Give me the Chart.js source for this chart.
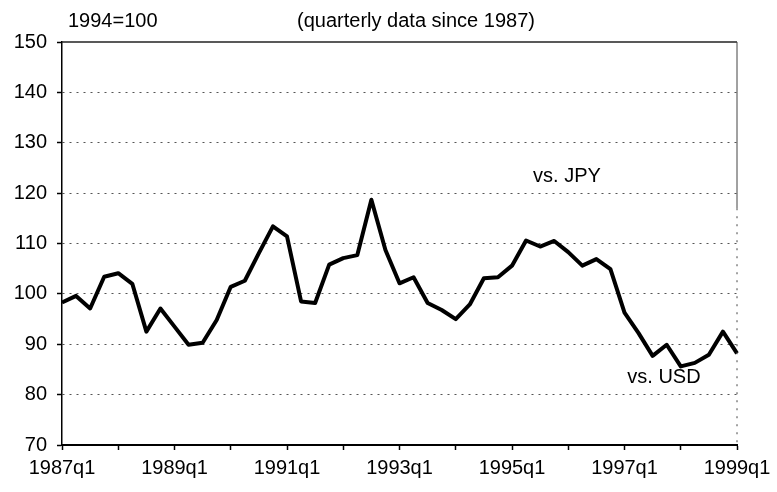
<!DOCTYPE html>
<html>
<head>
<meta charset="utf-8">
<script src="https://cdn.jsdelivr.net/npm/chart.js@4/dist/chart.umd.min.js"></script>
<style>
  html, body { margin: 0; padding: 0; background: #fff; }
  #wrap { width: 777px; height: 492px; }
</style>
</head>
<body>
<div id="wrap"><canvas id="chart" width="777" height="492"></canvas></div>
<script>
// quarters 1987q1 .. 1999q1
const years = [1987, 1988, 1989, 1990, 1991, 1992, 1993, 1994, 1995, 1996, 1997, 1998, 1999]
const quarters = []
years.forEach(y => {
    for (let q = 1; q <= 4; q++) {
        if (y === 1999 && q > 1) break
        quarters.push(y + 'q' + q)
    }
})

// index, 1994=100
const indexValues = [
    98.3, 99.6, 97.1, 103.4, 104.1, 102.0, 92.5, 97.1,
    93.5, 89.9, 90.3, 94.8, 101.4, 102.6, 108.1, 113.4,
    111.4, 98.5, 98.2, 105.8, 107.1, 107.7, 118.7, 108.7,
    102.1, 103.3, 98.2, 96.8, 95.0, 97.9, 103.1, 103.3,
    105.6, 110.6, 109.4, 110.5, 108.3, 105.6, 106.9, 104.9,
    96.3, 92.2, 87.7, 89.9, 85.6, 86.3, 87.9, 92.5,
    88.2
]

const yTicks = [70, 80, 90, 100, 110, 120, 130, 140, 150]
const titleLeft = '1994=100'
const titleMid = '(quarterly data since 1987)'
const seriesLabels = ['vs. JPY', 'vs. USD']

const FONT = '"Liberation Sans", Arial, sans-serif'

// extra texts + top/right frame
const decor = {
    id: 'decor',
    afterDraw(chart) {
        const ctx = chart.ctx, a = chart.chartArea
        const x = chart.scales.x, y = chart.scales.y
        ctx.save()
        // frame top + right
        ctx.strokeStyle = '#222'
        ctx.lineWidth = 1.5
        ctx.beginPath()
        ctx.moveTo(a.left, a.top)
        ctx.lineTo(a.right, a.top)
        ctx.stroke()
        ctx.lineWidth = 1
        ctx.strokeStyle = '#444'
        ctx.beginPath()
        ctx.moveTo(a.right, a.top)
        ctx.lineTo(a.right, y.getPixelForValue(117))
        ctx.stroke()
        ctx.setLineDash([2, 6])
        ctx.beginPath()
        ctx.moveTo(a.right, y.getPixelForValue(117))
        ctx.lineTo(a.right, a.bottom)
        ctx.stroke()
        ctx.setLineDash([])

        ctx.fillStyle = '#000'
        ctx.font = '20px ' + FONT
        ctx.textBaseline = 'middle'
        ctx.textAlign = 'left'
        ctx.fillText(titleLeft, 68, 21)
        ctx.textAlign = 'center'
        ctx.fillText(titleMid, 416, 21)

        ctx.textAlign = 'left'
        ctx.fillText(seriesLabels[0], x.getPixelForValue(33.5), y.getPixelForValue(123.3))
        ctx.fillText(seriesLabels[1], x.getPixelForValue(40.2), y.getPixelForValue(83.4))
        ctx.restore()
    }
}

new Chart(document.getElementById('chart'), {
    type: 'line',
    data: {
        labels: quarters,
        datasets: [{
            data: indexValues,
            borderColor: '#000',
            borderWidth: 4,
            pointRadius: 0,
            tension: 0,
            borderJoinStyle: 'round',
            fill: false
        }]
    },
    options: {
        responsive: false,
        animation: false,
        events: [],
        layout: {padding: {top: 42, right: 40, bottom: 0, left: 0}},
        plugins: {legend: {display: false}, tooltip: {enabled: false}},
        scales: {
            x: {
                type: 'category',
                offset: false,
                afterFit: s => { s.height = 47 },
                border: {color: '#000', width: 2},
                grid: {
                    drawOnChartArea: false,
                    drawTicks: true,
                    tickLength: 5,
                    tickColor: c => (c.index % 4 === 0 ? '#000' : 'rgba(0,0,0,0)'),
                    tickWidth: 1.5
                },
                ticks: {
                    autoSkip: false,
                    maxRotation: 0,
                    padding: 6,
                    color: '#000',
                    font: {family: FONT, size: 20},
                    callback: (v, i) => (i % 8 === 0 ? quarters[i] : '')
                }
            },
            y: {
                min: 70,
                max: 150,
                afterFit: s => { s.width = 62 },
                afterBuildTicks: s => { s.ticks = yTicks.map(v => ({value: v})) },
                border: {color: '#000', width: 1.5, dash: [2, 5]},
                grid: {
                    color: c => (c.tick && (c.tick.value === 70 || c.tick.value === 150) ? 'rgba(0,0,0,0)' : '#555'),
                    lineWidth: 1,
                    tickLength: 5,
                    tickColor: '#000',
                    tickWidth: 1.5,
                    tickBorderDash: []
                },
                ticks: {
                    padding: 10,
                    color: '#000',
                    font: {family: FONT, size: 20}
                }
            }
        }
    },
    plugins: [decor]
})
</script>
</body>
</html>
